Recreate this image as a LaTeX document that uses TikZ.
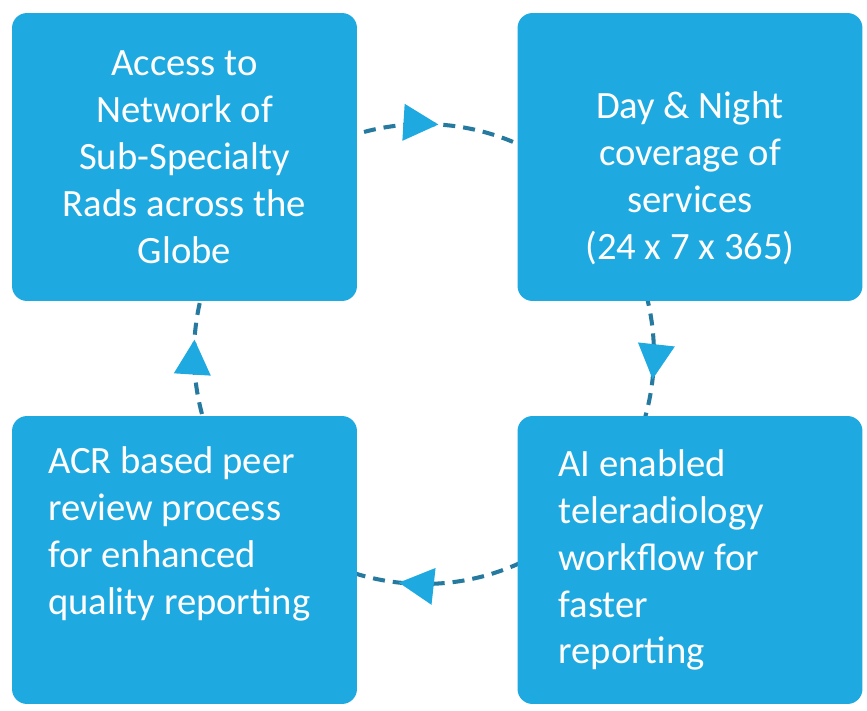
\documentclass[tikz,border=0pt]{standalone}
\usepackage{fontspec}
\setmainfont{Carlito}
\usetikzlibrary{positioning}
\usetikzlibrary{arrows.meta}
\usetikzlibrary{decorations.markings}
\definecolor{boxblue}{RGB}{30,170,225}
\definecolor{dashteal}{RGB}{38,122,160}

\begin{document}
\begin{tikzpicture}[x=0.02cm, y=-0.02cm,
box/.style={fill=boxblue, rounded corners=0.3cm, minimum width=6.9cm, minimum height=5.76cm, inner sep=0},
boxtext/.style={text=white, font=\fontsize{22}{26.7}\selectfont, inner sep=0},
flow/.style={draw=dashteal, line width=2.3pt, dash pattern=on 0.24cm off 0.16cm,
  postaction={decorate}, decoration={markings, mark=at position #1 with {\arrow{Triangle[length=0.7cm, width=0.72cm, fill=boxblue, color=boxblue]}}}}]
\pgfmathsetmacro{\sugar}{4.6}

\useasboundingbox[fill=white] (0,0) rectangle (867,711);

\coordinate (hub) at (424,354);

% the cycle behind the boxes
\foreach \kezd/\hely in {135/0.54,45/0.57,-45/0.57,-135/0.54}{
\draw[flow=\hely] ([shift=(\kezd:\sugar cm)]hub) arc[start angle=\kezd, delta angle=-90, radius=\sugar cm];
}

\node[box] (access) at (184.5,157){};
\node[box] (day) at (690,157){};
\node[box] (peer) at (184.5,560){};
\node[box] (ai) at (690,560){};

\node[boxtext, align=center] (accesstext) at (access){Access to\\Network of\\Sub-Specialty\\Rads across the\\Globe};
\node[boxtext, align=center] (daytext) at ([yshift=-0.42cm]day.center){Day \& Night\\coverage of\\services\\(24 x 7 x 365)};
\node[boxtext, align=left, anchor=west] (peertext) at ([xshift=0.72cm, yshift=0.52cm]peer.west){ACR based peer\\review process\\for enhanced\\quality reporting};
\node[boxtext, align=left, anchor=west] (aitext) at ([xshift=0.82cm]ai.west){AI enabled\\teleradiology\\workflow for\\faster\\reporting};

\end{tikzpicture}
\end{document}
